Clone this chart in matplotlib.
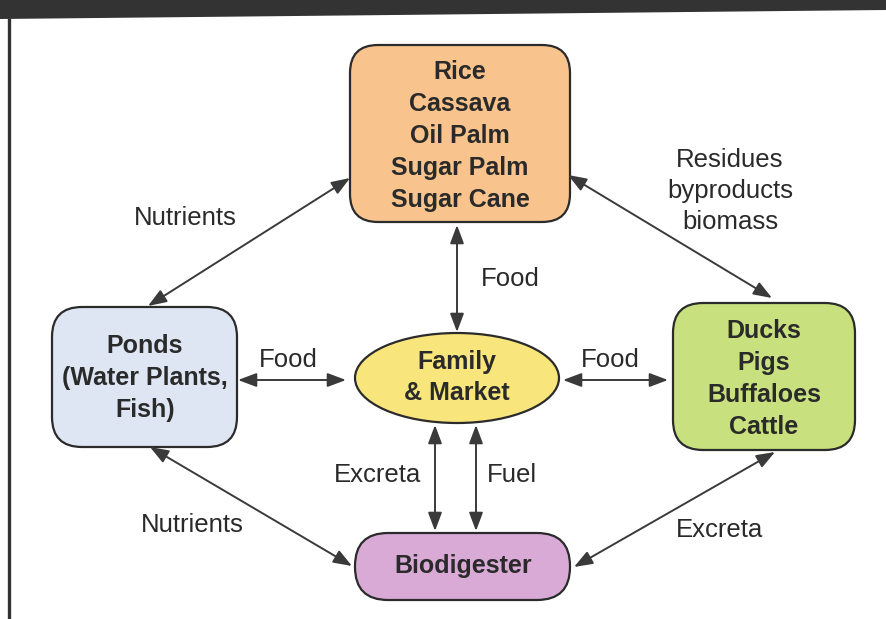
import matplotlib
matplotlib.use("agg")
import matplotlib.pyplot as plt
from matplotlib.patches import FancyBboxPatch, Ellipse, FancyArrowPatch, Polygon

# node texts
crops = ["Rice", "Cassava", "Oil Palm", "Sugar Palm", "Sugar Cane"]
ponds = ["Ponds", "(Water Plants,", "Fish)"]
animals = ["Ducks", "Pigs", "Buffaloes", "Cattle"]
family = ["Family", "& Market"]
digester = ["Biodigester"]

# flow labels
flow_labels = ["Nutrients", "Residues\nbyproducts\nbiomass", "Food", "Food", "Food",
               "Excreta", "Fuel", "Nutrients", "Excreta"]

DARK = "#333333"

fig = plt.figure(figsize=(8.86, 6.19), dpi=100)
ax = fig.add_axes([0, 0, 1, 1])
ax.set_xlim(0, 886)
ax.set_ylim(619, 0)
ax.axis("off")

# header bar + left frame line
ax.add_patch(Polygon([(0, 0), (886, 0), (886, 10), (0, 19)], closed=True,
                     facecolor=DARK, edgecolor="none"))
ax.plot([9.5, 9.5], [18, 619], color=DARK, lw=2.4, solid_capstyle="butt")


def rbox(x0, y0, x1, y1, r, fc):
    p = FancyBboxPatch((x0, y0), x1 - x0, y1 - y0,
                       boxstyle="round,pad=0,rounding_size=%d" % r,
                       facecolor=fc, edgecolor="#2b2b2b", lw=1.6, zorder=2)
    ax.add_patch(p)


def lines(cx, y_first, step, txt):
    for i, t in enumerate(txt):
        ax.text(cx, y_first + i * step, t, ha="center", va="center",
                fontsize=18, fontweight="bold", color="#2a2a2a",
                family="Liberation Sans", zorder=3)


# boxes
rbox(350, 45, 570, 222, 28, "#F8C38C")
lines(460, 72, 32, crops)

rbox(52, 307, 237, 447, 30, "#DEE6F3")
lines(145, 346, 32, ponds)

rbox(673, 303, 855, 450, 30, "#C8E07E")
lines(764, 331, 32, animals)

rbox(355, 533, 570, 600, 33, "#D9AAD6")
lines(463, 566, 32, digester)

ax.add_patch(Ellipse((457, 378), 204, 90, facecolor="#F8E57C",
                     edgecolor="#2b2b2b", lw=1.6, zorder=2))
lines(457, 362, 31, family)

# arrows (double headed)
arrows = [
    ((350, 178), (148, 306)),
    ((568, 175), (772, 298)),
    ((457, 225), (457, 332)),
    ((238, 380), (346, 380)),
    ((563, 380), (668, 380)),
    ((435, 425), (435, 531)),
    ((476, 425), (476, 531)),
    ((150, 447), (352, 566)),
    ((574, 567), (775, 452)),
]
for a, b in arrows:
    ax.add_patch(FancyArrowPatch(a, b, arrowstyle="<|-|>,head_length=0.8,head_width=0.3",
                                 mutation_scale=14, color="#3a3a3a", lw=1.4,
                                 shrinkA=0, shrinkB=0, zorder=4))

# flow labels
label_pos = [(185, 218), (730, 191), (510, 279), (288, 360), (610, 360),
             (378, 475), (512, 475), (192, 525), (720, 530)]
for t, (x, y) in zip(flow_labels, label_pos):
    ax.text(x, y, t, ha="center", va="center", fontsize=18.5, color="#2a2a2a",
            family="Liberation Sans", linespacing=1.36)

fig.savefig("out.png", dpi=100)
